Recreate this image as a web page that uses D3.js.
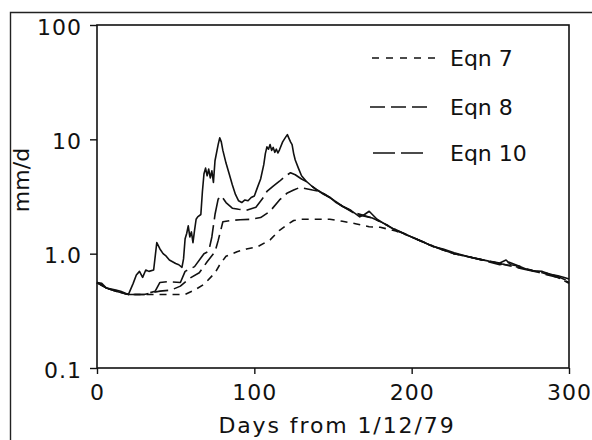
<!DOCTYPE html>
<html>
<head>
<meta charset="utf-8">
<script src="https://cdn.jsdelivr.net/npm/d3@7"></script>
<style>
  body { margin: 0; background: #fff; }
  svg text { font-family: "DejaVu Sans", sans-serif; fill: #111; }
</style>
</head>
<body>
<svg id="chart" width="592" height="440"></svg>
<script>
// measured series (days from 1/12/79, mm/d)
const obsDays = [0, 3, 6, 9, 12, 15, 18, 20, 23, 25, 27, 29, 31, 33, 36, 38, 40, 42, 44, 46, 48, 50, 52, 54, 55, 56, 57, 58, 59, 60, 61, 62, 63, 64, 66, 67, 68, 69, 70, 71, 72, 73, 74, 75, 77, 78, 79, 80, 82, 84, 86, 88, 90, 92, 94, 96, 98, 100, 102, 104, 106, 107, 108, 109, 110, 111, 112, 113, 114, 115, 116, 118, 120, 121, 122, 123, 124, 125, 126, 128, 130, 133, 137, 140, 144, 148, 152, 156, 160, 164, 167, 170, 173, 175, 178, 182, 186, 190, 195, 201, 207, 214, 220, 227, 235, 242, 249, 256, 260, 263, 268, 273, 277, 283, 288, 293, 297, 300];
const obsValues = [0.56, 0.55, 0.5, 0.49, 0.48, 0.47, 0.45, 0.44, 0.55, 0.65, 0.7, 0.62, 0.72, 0.7, 0.72, 1.25, 1.1, 1.0, 0.95, 0.88, 0.85, 0.82, 0.8, 0.76, 0.9, 1.35, 1.5, 1.75, 1.4, 1.55, 1.25, 1.6, 2.0, 2.1, 2.2, 3.5, 5.0, 5.6, 4.8, 5.5, 4.6, 5.3, 4.2, 6.5, 9.0, 10.3, 9.5, 8.0, 6.2, 5.0, 4.0, 3.3, 2.9, 2.8, 2.95, 2.9, 3.1, 3.2, 3.8, 4.5, 6.0, 7.5, 8.6, 8.2, 9.0, 8.0, 8.5, 7.7, 8.2, 7.6, 8.1, 9.5, 10.5, 11, 10.2, 9.5, 9.0, 7.5, 6.6, 5.6, 4.8, 4.3, 3.85, 3.6, 3.3, 3.1, 2.8, 2.6, 2.45, 2.25, 2.1, 2.2, 2.35, 2.2, 2.0, 1.85, 1.72, 1.6, 1.5, 1.38, 1.27, 1.15, 1.1, 1.02, 0.95, 0.9, 0.86, 0.83, 0.88, 0.8, 0.78, 0.73, 0.71, 0.7, 0.66, 0.64, 0.62, 0.6];

const eqn7Days = [0, 6, 12, 20, 30, 40, 48, 56, 62, 68, 75, 78, 82, 89, 95, 102, 110, 116, 121, 125, 130, 140, 148, 156, 165, 173, 180, 190, 200, 214, 227, 242, 256, 270, 283, 293, 300];
const eqn7Values = [0.56, 0.5, 0.47, 0.44, 0.44, 0.44, 0.44, 0.44, 0.48, 0.54, 0.68, 0.8, 0.95, 1.04, 1.1, 1.15, 1.32, 1.6, 1.8, 1.95, 2.0, 2.0, 2.0, 1.92, 1.82, 1.72, 1.7, 1.58, 1.4, 1.15, 1.0, 0.9, 0.82, 0.75, 0.68, 0.62, 0.56];

const eqn8Days = [0, 6, 12, 20, 30, 40, 47, 53, 59, 65, 70, 75, 77, 80, 85, 91, 98, 104, 110, 116, 121, 125, 129, 133, 137, 142, 148, 156, 165, 175, 182, 190, 200, 214, 227, 242, 256, 262, 270, 283, 293, 300];
const eqn8Values = [0.56, 0.5, 0.47, 0.44, 0.44, 0.47, 0.48, 0.52, 0.61, 0.68, 0.85, 1.04, 1.3, 1.9, 1.95, 1.98, 2.0, 2.07, 2.35, 2.95, 3.4, 3.6, 3.8, 3.7, 3.6, 3.5, 3.1, 2.6, 2.25, 2.05, 1.85, 1.62, 1.4, 1.16, 1.0, 0.9, 0.8, 0.84, 0.76, 0.67, 0.62, 0.55];

const eqn10Days = [0, 6, 12, 20, 30, 37, 40, 45, 53, 56, 62, 68, 71, 73, 75, 77, 79, 82, 86, 90, 95, 101, 105, 108, 112, 116, 120, 123, 126, 130, 134, 137, 140, 148, 156, 165, 175, 182, 190, 200, 214, 227, 242, 256, 270, 278, 283, 293, 300];
const eqn10Values = [0.56, 0.5, 0.47, 0.44, 0.44, 0.47, 0.56, 0.57, 0.56, 0.7, 0.77, 1.0, 1.05, 1.4, 2.2, 3.0, 3.2, 2.8, 2.5, 2.45, 2.4, 2.55, 3.0, 3.5, 3.9, 4.3, 4.8, 5.1, 4.9, 4.5, 4.2, 3.85, 3.6, 3.1, 2.6, 2.2, 2.05, 1.85, 1.6, 1.4, 1.15, 1.0, 0.9, 0.82, 0.74, 0.7, 0.69, 0.63, 0.57];

const yTicks = [0.1, 1, 10, 100];
const yTickLabels = ["0.1", "1.0", "10", "100"];
const xTicks = [0, 100, 200, 300];
const legendLabels = ["Eqn 7", "Eqn 8", "Eqn 10"];

const svg = d3.select("#chart");

// plot area
const plotLeft = 97, plotRight = 569, plotTop = 25, plotBottom = 368;

const x = d3.scaleLinear().domain([0, 300]).range([plotLeft, plotRight]);
const y = d3.scaleLog().domain([0.1, 100]).range([plotBottom, plotTop]);

// outer frame (only top and left visible)
svg.append("path")
    .attr("d", "M10.5,440 V12.5 H592")
    .attr("fill", "none")
    .attr("stroke", "#222")
    .attr("stroke-width", 1.4);

// plot frame
svg.append("rect")
    .attr("x", plotLeft)
    .attr("y", plotTop)
    .attr("width", plotRight - plotLeft)
    .attr("height", plotBottom - plotTop)
    .attr("fill", "none")
    .attr("stroke", "#111")
    .attr("stroke-width", 1.6);

// axes
const yAxis = svg.append("g")
    .attr("transform", `translate(${plotLeft},0)`)
    .call(d3.axisLeft(y).tickValues(yTicks).tickSize(7).tickPadding(8)
        .tickFormat((d, i) => yTickLabels[i]));
yAxis.select(".domain").remove();
yAxis.selectAll("line").attr("stroke", "#111").attr("stroke-width", 1.4);
yAxis.selectAll("text")
    .attr("dy", "0.42em")
    .style("font-size", "22px")
    .style("letter-spacing", "1px")
    .style("font-family", "DejaVu Sans");

const xAxis = svg.append("g")
    .attr("transform", `translate(0,${plotBottom})`)
    .call(d3.axisBottom(x).tickValues(xTicks).tickSize(6).tickPadding(10)
        .tickFormat(d3.format("d")));
xAxis.select(".domain").remove();
xAxis.selectAll("line").attr("stroke", "#111").attr("stroke-width", 1.4);
xAxis.selectAll("text")
    .style("font-size", "22px")
    .style("letter-spacing", "1px")
    .style("font-family", "DejaVu Sans");

// axis titles
svg.append("text")
    .attr("x", 337)
    .attr("y", 433)
    .attr("text-anchor", "middle")
    .style("font-size", "22px")
    .style("letter-spacing", "1.9px")
    .text("Days from 1/12/79");

svg.append("text")
    .attr("transform", "translate(29,180) rotate(-90)")
    .attr("text-anchor", "middle")
    .style("font-size", "22px")
    .text("mm/d");

// lines
const line = d3.line()
    .x(d => x(d[0]))
    .y(d => y(d[1]));

const series = [
    { days: eqn7Days, values: eqn7Values, dash: "7,6" },
    { days: eqn8Days, values: eqn8Values, dash: "14,6" },
    { days: eqn10Days, values: eqn10Values, dash: "22,6" },
    { days: obsDays, values: obsValues, dash: null }
];

series.forEach(function (s) {
    svg.append("path")
        .datum(s.days.map((d, i) => [d, s.values[i]]))
        .attr("fill", "none")
        .attr("stroke", "#111")
        .attr("stroke-width", 1.6)
        .attr("stroke-linejoin", "round")
        .attr("stroke-dasharray", s.dash)
        .attr("d", line);
});

// legend
const legendY = [58, 107, 153];
const legendX1 = [372, 370, 373];
const legendX2 = [435, 427, 423];
const legendDash = ["7,7", "15,6", "22,6"];
const legend = svg.append("g");
legendLabels.forEach(function (lab, i) {
    legend.append("line")
        .attr("x1", legendX1[i])
        .attr("x2", legendX2[i])
        .attr("y1", legendY[i])
        .attr("y2", legendY[i])
        .attr("stroke", "#111")
        .attr("stroke-width", 1.6)
        .attr("stroke-dasharray", legendDash[i]);
    legend.append("text")
        .attr("x", 450)
        .attr("y", legendY[i] + 7)
        .attr("dy", "0.05em")
        .style("font-size", "22px")
        .text(lab);
});
</script>
</body>
</html>
